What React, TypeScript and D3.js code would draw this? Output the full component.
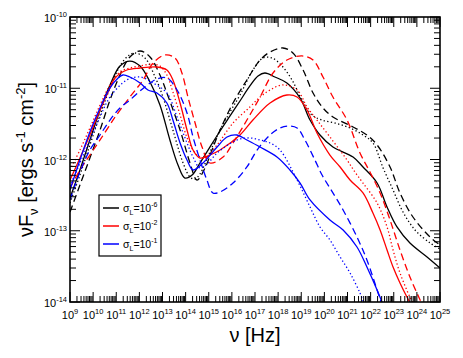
import React from "react";
import * as d3 from "d3";

const width = 463;
const height = 358;
const margin = { top: 17, right: 23, bottom: 56, left: 70 };

// spectra as [log10 nu (Hz), log10 nuFnu (ergs s^-1 cm^-2)]
const s6Solid = [
  [9.0, -12.54], [9.43, -12.147], [9.86, -11.726], [10.3, -11.305], [10.73, -10.954], [11.16, -10.688],
  [11.59, -10.618], [12.03, -10.688], [12.46, -10.912], [12.89, -11.235], [13.32, -11.726], [13.67, -12.077],
  [13.97, -12.26], [14.28, -12.218], [14.62, -12.049], [15.05, -11.825], [15.49, -11.6], [15.92, -11.389],
  [16.35, -11.179], [16.78, -10.968], [17.13, -10.828], [17.43, -10.786], [17.86, -10.842], [18.38, -10.926],
  [18.95, -11.137], [19.38, -11.446], [19.81, -11.656], [20.37, -11.825], [21.24, -11.965], [21.67, -12.105],
  [22.28, -12.33], [22.71, -12.667], [23.14, -12.947], [23.7, -13.172], [24.44, -13.368], [25.0, -13.523],
];
const s6Dotted = [
  [9.0, -12.61], [9.43, -12.218], [9.86, -11.796], [10.3, -11.375], [10.73, -10.996], [11.16, -10.688],
  [11.51, -10.547], [11.81, -10.505], [12.24, -10.575], [12.68, -10.842], [13.02, -11.123], [13.45, -11.586],
  [13.89, -12.049], [14.19, -12.246], [14.41, -12.274], [14.62, -12.204], [15.05, -11.895], [15.49, -11.586],
  [15.92, -11.333], [16.35, -11.095], [16.91, -10.744], [17.35, -10.575], [17.74, -10.575], [18.17, -10.688],
  [18.6, -10.884], [19.03, -11.165], [19.46, -11.375], [19.9, -11.446], [20.46, -11.488], [21.11, -11.558],
  [21.67, -11.656], [22.1, -11.768], [22.54, -12.119], [22.97, -12.428], [23.4, -12.737], [23.92, -12.989],
  [24.57, -13.172], [25.0, -13.256],
];
const s6Dashed = [
  [9.0, -12.737], [9.43, -12.358], [9.86, -11.979], [10.3, -11.586], [10.73, -11.165], [11.16, -10.814],
  [11.59, -10.561], [12.03, -10.477], [12.46, -10.561], [12.89, -10.814], [13.19, -11.067], [13.76, -11.586],
  [14.19, -12.049], [14.49, -12.288], [14.84, -12.119], [15.14, -11.867], [15.49, -11.586], [16.05, -11.207],
  [16.65, -10.884], [17.22, -10.604], [17.65, -10.491], [18.21, -10.435], [18.64, -10.505], [19.08, -10.744],
  [19.51, -11.067], [19.94, -11.277], [20.37, -11.403], [21.24, -11.544], [21.84, -11.656], [22.28, -11.796],
  [22.84, -12.105], [23.27, -12.47], [23.83, -12.807], [24.57, -13.088], [25.0, -13.2],
];

const s2Solid = [
  [9.0, -12.288], [9.43, -11.979], [9.86, -11.656], [10.3, -11.305], [10.73, -10.996], [10.95, -10.856],
  [11.46, -10.744], [12.03, -10.716], [12.76, -10.702], [13.19, -10.744], [13.45, -10.884], [13.76, -11.207],
  [14.06, -11.586], [14.32, -11.867], [14.62, -11.979], [15.05, -11.937], [15.49, -11.867], [16.35, -11.656],
  [16.91, -11.446], [17.65, -11.207], [18.38, -11.095], [18.82, -11.123], [19.25, -11.305], [19.68, -11.628],
  [20.24, -11.937], [20.68, -12.105], [21.11, -12.288], [21.67, -12.47], [22.1, -12.751], [22.41, -12.989],
  [22.71, -13.27], [22.97, -13.509], [23.27, -13.733], [23.57, -13.93], [23.83, -14.084],
];
const s2Dotted = [
  [9.0, -12.147], [9.43, -11.867], [9.86, -11.558], [10.3, -11.235], [10.73, -10.954], [11.16, -10.772],
  [11.59, -10.716], [12.03, -10.688], [12.55, -10.66], [12.89, -10.688], [13.19, -10.814], [13.45, -11.053],
  [13.76, -11.375], [14.1, -11.726], [14.49, -11.937], [14.84, -11.979], [15.36, -11.796], [16.05, -11.488],
  [16.78, -11.263], [17.22, -11.123], [17.65, -11.025], [18.17, -10.954], [18.82, -11.025], [19.25, -11.263],
  [19.68, -11.446], [20.24, -11.684], [20.98, -12.007], [21.32, -12.175], [21.67, -12.33], [22.28, -12.611],
  [22.71, -12.947], [22.97, -13.27], [23.27, -13.593], [23.7, -13.93], [23.92, -14.056],
];
const s2Dashed = [
  [9.0, -12.4], [9.43, -12.147], [9.86, -11.937], [10.3, -11.726], [10.95, -11.404], [11.59, -11.123],
  [12.16, -10.884], [12.59, -10.646], [13.11, -10.533], [13.54, -10.575], [13.84, -10.786], [14.1, -11.123],
  [14.41, -11.488], [14.71, -11.825], [15.05, -12.049], [15.62, -11.965], [16.05, -11.768], [16.65, -11.446],
  [17.22, -11.123], [17.78, -10.786], [18.38, -10.604], [19.03, -10.547], [19.51, -10.604], [19.94, -10.842],
  [20.37, -11.123], [20.98, -11.446], [21.54, -11.909], [21.97, -12.175], [22.41, -12.47], [22.84, -12.849],
  [23.27, -13.27], [23.7, -13.649], [24.14, -13.972], [24.26, -14.056],
];

const s1Solid = [
  [9.0, -12.428], [9.43, -12.007], [9.86, -11.614], [10.3, -11.277], [10.73, -10.996], [11.08, -10.856],
  [11.29, -10.814], [11.59, -10.842], [12.03, -10.926], [12.37, -11.025], [12.76, -11.067], [13.19, -11.207],
  [13.45, -11.446], [13.76, -11.768], [14.06, -12.007], [14.32, -12.147], [14.75, -12.049], [15.36, -11.825],
  [15.79, -11.684], [16.22, -11.656], [16.65, -11.726], [17.22, -11.825], [17.95, -11.965], [18.51, -12.147],
  [18.95, -12.33], [19.38, -12.568], [20.24, -12.849], [20.81, -12.989], [21.41, -13.228], [21.84, -13.509],
  [22.28, -13.832], [22.54, -14.042],
];
const s1Dotted = [
  [9.0, -12.372], [9.43, -12.049], [9.86, -11.726], [10.3, -11.404], [10.73, -11.123], [11.46, -10.884],
  [12.03, -10.842], [12.59, -10.926], [13.19, -11.067], [13.63, -11.404], [14.06, -11.768], [14.32, -11.965],
  [14.62, -12.119], [14.97, -12.049], [15.36, -11.909], [16.22, -11.726], [16.78, -11.698], [17.22, -11.726],
  [17.65, -11.768], [18.08, -11.867], [18.82, -12.288], [19.38, -12.667], [19.81, -12.947], [20.24, -13.13],
  [20.68, -13.368], [21.11, -13.593], [21.54, -13.874], [21.71, -14.014],
];
const s1Dashed = [
  [9.0, -12.568], [9.43, -12.175], [9.86, -11.867], [10.3, -11.656], [10.73, -11.446], [11.16, -11.277],
  [11.59, -11.165], [12.24, -10.982], [12.76, -10.87], [13.19, -10.856], [13.63, -11.025], [14.06, -11.347],
  [14.32, -11.684], [14.62, -12.007], [14.92, -12.288], [15.18, -12.47], [15.49, -12.456], [16.05, -12.33],
  [16.65, -12.105], [17.09, -11.867], [17.65, -11.656], [18.08, -11.558], [18.43, -11.53], [18.82, -11.558],
  [19.16, -11.726], [19.59, -12.007], [19.9, -12.218], [20.24, -12.4], [20.81, -12.709], [21.41, -13.088],
  [21.84, -13.411], [22.28, -13.832], [22.45, -14.0],
];

const xExponents = d3.range(9, 26);
const yExponents = [-14, -13, -12, -11, -10];
const legendColors = ["#000000", "#ff0000", "#0000ff"];
const legendExponents = ["-6", "-2", "-1"];

const DOTTED = "1.3,2.4";
const DASHED = "7,4";

const series = [
  { data: s6Solid, color: legendColors[0], dash: null },
  { data: s6Dotted, color: legendColors[0], dash: DOTTED },
  { data: s6Dashed, color: legendColors[0], dash: DASHED },
  { data: s2Solid, color: legendColors[1], dash: null },
  { data: s2Dotted, color: legendColors[1], dash: DOTTED },
  { data: s2Dashed, color: legendColors[1], dash: DASHED },
  { data: s1Solid, color: legendColors[2], dash: null },
  { data: s1Dotted, color: legendColors[2], dash: DOTTED },
  { data: s1Dashed, color: legendColors[2], dash: DASHED },
];

const font = "'Liberation Sans', Arial, Helvetica, sans-serif";

const App = () => {
  const x0 = margin.left;
  const x1 = width - margin.right;
  const y0 = height - margin.bottom;
  const y1 = margin.top;

  const xScale = d3.scaleLog().domain([1e9, 1e25]).range([x0, x1]);
  const yScale = d3.scaleLog().domain([1e-14, 1e-10]).range([y0, y1]);

  const line = d3
    .line<number[]>()
    .x((d) => xScale(Math.pow(10, d[0])))
    .y((d) => yScale(Math.pow(10, d[1])))
    .curve(d3.curveCatmullRom.alpha(0.5));

  // minor ticks: 2..9 in every decade
  const minorX: number[] = [];
  xExponents.slice(0, -1).forEach((e) => {
    for (let k = 2; k <= 9; k++) minorX.push(k * Math.pow(10, e));
  });
  const minorY: number[] = [];
  yExponents.slice(0, -1).forEach((e) => {
    for (let k = 2; k <= 9; k++) minorY.push(k * Math.pow(10, e));
  });

  const majorLen = 10;
  const minorLen = 6;

  return (
    <svg
      width={width}
      height={height}
      style={{ position: "absolute", left: 0, top: 0 }}
      fontFamily={font}
    >
      <rect width={width} height={height} fill="white" />
      <defs>
        <clipPath id="plot-clip">
          <rect x={x0} y={y1} width={x1 - x0} height={y0 - y1} />
        </clipPath>
      </defs>

      {/* curves */}
      <g clipPath="url(#plot-clip)">
        {series.map((s, i) => (
          <path
            key={i}
            d={line(s.data) || ""}
            fill="none"
            stroke={s.color}
            strokeWidth={1.3}
            strokeDasharray={s.dash || undefined}
          />
        ))}
      </g>

      {/* ticks, inward on all four sides */}
      <g stroke="black" strokeWidth={1}>
        {xExponents.map((e) => {
          const x = xScale(Math.pow(10, e));
          return (
            <g key={"xM" + e}>
              <line x1={x} x2={x} y1={y0} y2={y0 - majorLen} />
              <line x1={x} x2={x} y1={y1} y2={y1 + majorLen} />
            </g>
          );
        })}
        {minorX.map((v, i) => {
          const x = xScale(v);
          return (
            <g key={"xm" + i}>
              <line x1={x} x2={x} y1={y0} y2={y0 - minorLen} />
              <line x1={x} x2={x} y1={y1} y2={y1 + minorLen} />
            </g>
          );
        })}
        {yExponents.map((e) => {
          const y = yScale(Math.pow(10, e));
          return (
            <g key={"yM" + e}>
              <line x1={x0} x2={x0 + majorLen} y1={y} y2={y} />
              <line x1={x1} x2={x1 - majorLen} y1={y} y2={y} />
            </g>
          );
        })}
        {minorY.map((v, i) => {
          const y = yScale(v);
          return (
            <g key={"ym" + i}>
              <line x1={x0} x2={x0 + minorLen} y1={y} y2={y} />
              <line x1={x1} x2={x1 - minorLen} y1={y} y2={y} />
            </g>
          );
        })}
      </g>

      <rect
        x={x0}
        y={y1}
        width={x1 - x0}
        height={y0 - y1}
        fill="none"
        stroke="black"
        strokeWidth={1.6}
      />

      {/* tick labels */}
      {xExponents.map((e) => (
        <text
          key={"xl" + e}
          x={xScale(Math.pow(10, e))}
          y={y0 + 17}
          fontSize={11}
          textAnchor="middle"
        >
          <tspan>10</tspan>
          <tspan dy={-5} fontSize={7.5}>{e}</tspan>
        </text>
      ))}
      {yExponents.map((e) => (
        <text
          key={"yl" + e}
          x={x0 - 3}
          y={yScale(Math.pow(10, e)) + 5}
          fontSize={11}
          textAnchor="end"
        >
          <tspan>10</tspan>
          <tspan dy={-5} fontSize={7.5}>{e}</tspan>
        </text>
      ))}

      {/* axis titles */}
      <text x={(x0 + x1) / 2} y={342} fontSize={20} textAnchor="middle">
        ν [Hz]
      </text>
      <text
        transform={`translate(33, ${(y0 + y1) / 2}) rotate(-90)`}
        fontSize={20}
        textAnchor="middle"
      >
        <tspan>νF</tspan>
        <tspan dy={5} fontSize={13}>ν</tspan>
        <tspan dy={-5}>{" [ergs s"}</tspan>
        <tspan dy={-8} fontSize={13}>-1</tspan>
        <tspan dy={8}>{" cm"}</tspan>
        <tspan dy={-8} fontSize={13}>-2</tspan>
        <tspan dy={8}>]</tspan>
      </text>

      {/* legend */}
      <rect x={99} y={195} width={62} height={61} fill="white" stroke="black" strokeWidth={1.2} />
      {legendColors.map((c, i) => {
        const y = 208 + i * 18;
        return (
          <g key={"lg" + i}>
            <line x1={103} x2={119} y1={y} y2={y} stroke={c} strokeWidth={1.5} />
            <text x={123} y={y + 4} fontSize={10.5}>
              <tspan>σ</tspan>
              <tspan dy={3} fontSize={7}>L</tspan>
              <tspan dy={-3}>=10</tspan>
              <tspan dy={-5} fontSize={7}>{legendExponents[i]}</tspan>
            </text>
          </g>
        );
      })}
    </svg>
  );
};

export default App;
